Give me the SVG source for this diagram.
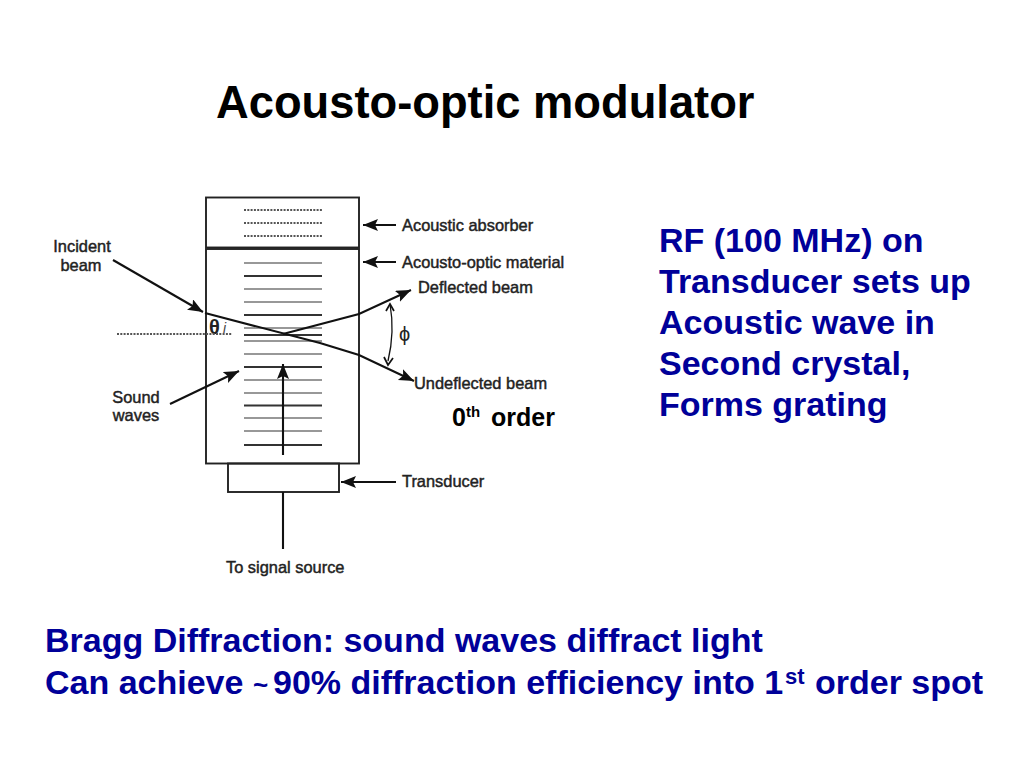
<svg xmlns="http://www.w3.org/2000/svg" width="1024" height="768" viewBox="0 0 1024 768">
<defs>
<style>
text{font-family:"Liberation Sans",Arial,sans-serif}
.box{fill:none;stroke:#222;stroke-width:1.9}
.g1{stroke:#777;stroke-width:1.6}
.g2{stroke:#333;stroke-width:1.8}
.dot{stroke:#555;stroke-width:1.8;stroke-dasharray:2 1.3}
.ln{fill:none;stroke:#111;stroke-width:2.1}
.lbl{font-size:16.4px;fill:#222;stroke:#222;stroke-width:0.45}
.blue{font-size:34px;font-weight:bold;fill:#000099}
.sup{font-size:22px}
</style>
<marker id="ah" markerUnits="userSpaceOnUse" markerWidth="18" markerHeight="14" refX="15" refY="6" orient="auto"><path d="M0 0L15 6L0 12L3 6Z" fill="#111"/></marker>
</defs>
<rect width="1024" height="768" fill="#fff"/>
<text x="216" y="118" font-size="45.300" font-weight="bold" fill="#000">Acousto-optic modulator</text>
<g id="absorber">
<rect class="box" x="206" y="197.500" width="153" height="50"/>
<path class="dot" d="M244 210H322M244 223H322M244 236H322"/>
</g>
<g id="material">
<rect class="box" x="206" y="249" width="153" height="214.500"/>
<path class="g1" d="M244 263H322M244 289H322M244 302H322M244 328H322M244 341H322M244 354H322M244 380H322M244 393H322M244 418H322M244 431H322"/>
<path class="g2" d="M244 276H322M244 315H322M244 335H322M244 367H322M244 405.500H322M244 445H322"/>
<text x="209" y="334" font-size="20" font-weight="bold" font-family="'DejaVu Serif',serif" fill="#222">θ</text>
<text x="223" y="333" font-size="14" font-style="italic" fill="#444">i</text>
</g>
<g id="transducer"><rect class="box" x="228" y="463.500" width="111" height="28.500"/></g>
<g id="connectors">
<path class="dot" d="M117 334H232"/>
<path class="ln" marker-end="url(#ah)" d="M113 260L203 312"/>
<path class="ln" d="M205 313L320 343L359 355L414 381" marker-end="url(#ah)"/>
<path class="ln" d="M283 334L359 314L411 290" marker-end="url(#ah)"/>
<path class="ln" d="M390 304Q395 332 388 361" style="stroke-width:1.3"/>
<path d="M386 311L390 304L394 311M384 357L388 365L393 358" fill="none" stroke="#111" stroke-width="1.7"/>
<path class="ln" marker-end="url(#ah)" d="M170 404L239 371"/>
<path class="ln" marker-end="url(#ah)" d="M283 455V364"/>
<path class="ln" d="M283 492V549"/>
<path class="ln" marker-end="url(#ah)" d="M396 225H363"/>
<path class="ln" marker-end="url(#ah)" d="M396 262H363"/>
<path class="ln" marker-end="url(#ah)" d="M396 482H341"/>
</g>
<g id="labels">
<text class="lbl" x="82" y="252" text-anchor="middle">Incident</text>
<text class="lbl" x="81" y="271" text-anchor="middle">beam</text>
<text class="lbl" x="136" y="403" text-anchor="middle">Sound</text>
<text class="lbl" x="136" y="421" text-anchor="middle">waves</text>
<text class="lbl" x="402" y="231">Acoustic absorber</text>
<text class="lbl" x="402" y="268">Acousto-optic material</text>
<text class="lbl" x="418" y="293">Deflected beam</text>
<text class="lbl" x="414" y="389">Undeflected beam</text>
<text class="lbl" x="402" y="487">Transducer</text>
<text class="lbl" x="226" y="573">To signal source</text>
<text x="399" y="341" font-size="20" font-family="'DejaVu Sans',sans-serif" fill="#222">ϕ</text>
<text x="452" y="426" font-size="25" font-weight="bold" fill="#000">0<tspan font-size="15" x="466" dy="-9">th</tspan><tspan x="491" dy="9">order</tspan></text>
</g>
<g id="notes">
<text class="blue" x="659" y="252">RF (100 MHz) on</text>
<text class="blue" x="659" y="293">Transducer sets up</text>
<text class="blue" x="659" y="334">Acoustic wave in</text>
<text class="blue" x="659" y="375">Second crystal,</text>
<text class="blue" x="659" y="416">Forms grating</text>
<text class="blue" x="45" y="652">Bragg Diffraction: sound waves diffract light</text>
<text class="blue" x="45" y="694">Can achieve <tspan font-size="26" x="253">~</tspan><tspan x="273">90% diffraction efficiency into 1</tspan><tspan class="sup" x="785" dy="-10">st</tspan><tspan x="815" dy="10">order spot</tspan></text>
</g>
</svg>
